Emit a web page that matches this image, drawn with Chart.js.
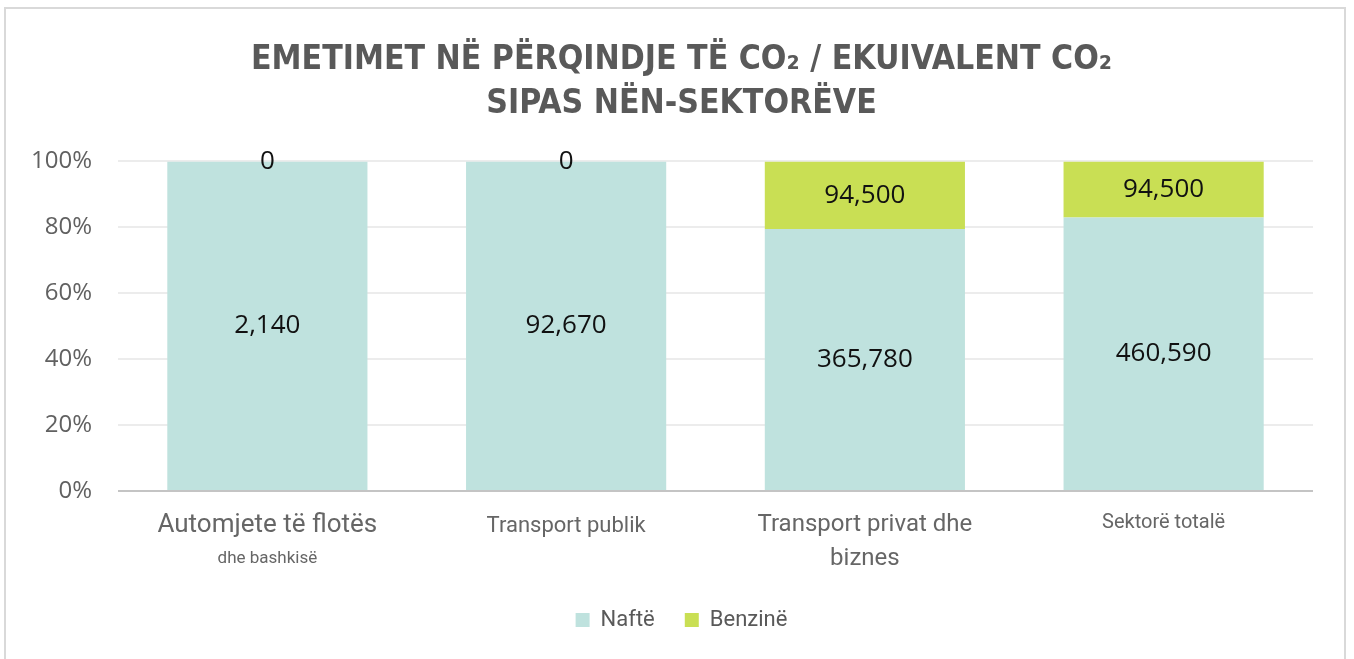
<!DOCTYPE html>
<html>
<head>
<meta charset="utf-8">
<script src="https://cdn.jsdelivr.net/npm/chart.js@4.4.1/dist/chart.umd.min.js"></script>
<style>
  html, body { margin: 0; padding: 0; background: #fff; }
  #wrap { position: relative; width: 1354px; height: 659px; overflow: hidden; }
  #frame { position: absolute; left: 4px; top: 7px; width: 1342px; height: 670px; border: 2px solid #d9d9d9; box-sizing: border-box; pointer-events: none; }
  canvas { position: absolute; left: 0; top: 0; }
</style>
</head>
<body>
<div id="wrap">
  <canvas id="chart" width="1354" height="659"></canvas>
  <div id="frame"></div>
</div>
<script>
// Chart data
const categories = [
    ['Automjete të flotës', 'dhe bashkisë'],
    ['Transport publik'],
    ['Transport privat dhe', 'biznes'],
    ['Sektorë totalë']
];
const naftaValues = [2140, 92670, 365780, 460590];
const benzinaValues = [0, 0, 94500, 94500];
const seriesNames = ['Naftë', 'Benzinë'];
const yTicks = [0, 20, 40, 60, 80, 100];

// share of each series in the category total, in percent
function toPercent(values) {
    return values.map((v, i) => {
        const total = naftaValues[i] + benzinaValues[i];
        return total ? v / total * 100 : 0;
    });
}

const rawValues = [naftaValues, benzinaValues];

// per-category label styling (each line has its own size, as in the original)
const labelStyles = [
    [{ size: 26, dy: 34 }, { size: 17, dy: 68 }],
    [{ size: 22, dy: 35 }],
    [{ size: 24, dy: 34 }, { size: 24, dy: 68 }],
    [{ size: 20, dy: 32 }]
];

const valueLabels = {
    id: 'valueLabels',
    afterDatasetsDraw(chart) {
        const ctx = chart.ctx;
        ctx.save();
        ctx.font = '26px "Open Sans", sans-serif';
        ctx.fillStyle = '#111';
        ctx.textAlign = 'center';
        ctx.textBaseline = 'middle';
        chart.data.datasets.forEach((ds, di) => {
            const meta = chart.getDatasetMeta(di);
            meta.data.forEach((bar, i) => {
                const y = (bar.y + bar.base) / 2;
                ctx.fillText(rawValues[di][i].toLocaleString('en-US'), bar.x, y);
            });
        });
        ctx.restore();
    }
};

const categoryLabels = {
    id: 'categoryLabels',
    // let the y tick labels use the space left of the axis box (not clipped)
    afterLayout(chart) {
        chart.scales.y.left = 0;
    },
    afterDraw(chart) {
        const ctx = chart.ctx;
        const xScale = chart.scales.x;
        const bottom = chart.chartArea.bottom;
        ctx.save();
        ctx.fillStyle = '#666';
        ctx.textAlign = 'center';
        ctx.textBaseline = 'middle';
        categories.forEach((lines, i) => {
            const x = xScale.getPixelForValue(i);
            lines.forEach((line, j) => {
                const st = labelStyles[i][j];
                ctx.font = st.size + 'px Roboto, sans-serif';
                ctx.fillText(line, x, bottom + st.dy);
            });
        });
        ctx.restore();
    }
};

const ctx = document.getElementById('chart').getContext('2d');
new Chart(ctx, {
    type: 'bar',
    data: {
        labels: categories.map(c => c.join(' ')),
        datasets: [
            {
                label: seriesNames[0],
                data: toPercent(naftaValues),
                backgroundColor: '#bfe2de',
                barPercentage: 0.67,
                categoryPercentage: 1
            },
            {
                label: seriesNames[1],
                data: toPercent(benzinaValues),
                backgroundColor: '#c9df54',
                barPercentage: 0.67,
                categoryPercentage: 1
            }
        ]
    },
    options: {
        responsive: false,
        animation: false,
        layout: { padding: { left: 50, right: 41, top: 0, bottom: 18 } },
        plugins: {
            title: {
                display: true,
                text: ['EMETIMET NË PËRQINDJE TË CO₂ / EKUIVALENT CO₂', 'SIPAS NËN-SEKTORËVE'],
                color: '#595959',
                font: { family: '"Liberation Sans Narrow", "DejaVu Sans Condensed", sans-serif', size: 33.5, weight: 'bold', lineHeight: 1.29 },
                padding: { top: 39, bottom: 36 }
            },
            legend: {
                position: 'bottom',
                labels: {
                    color: '#595959',
                    font: { family: 'Roboto, sans-serif', size: 22 },
                    boxWidth: 14,
                    boxHeight: 14,
                    padding: 30
                }
            },
            tooltip: { enabled: false }
        },
        scales: {
            x: {
                stacked: true,
                grid: { display: false },
                border: { display: false },
                ticks: { display: false },
                afterFit(scale) { scale.height = 88; }
            },
            y: {
                stacked: true,
                min: 0,
                max: 100,
                afterBuildTicks(scale) { scale.ticks = yTicks.map(v => ({ value: v })); },
                ticks: {
                    padding: 26,
                    color: '#616161',
                    font: { family: '"Open Sans", sans-serif', size: 24 },
                    callback: v => v + '%'
                },
                grid: {
                    drawTicks: false,
                    lineWidth: 2,
                    color: c => c.tick && c.tick.value === 0 ? '#c4c4c4' : '#ececec'
                },
                border: { display: false },
                afterFit(scale) { scale.width = 68; }
            }
        }
    },
    plugins: [valueLabels, categoryLabels]
});
</script>
</body>
</html>
